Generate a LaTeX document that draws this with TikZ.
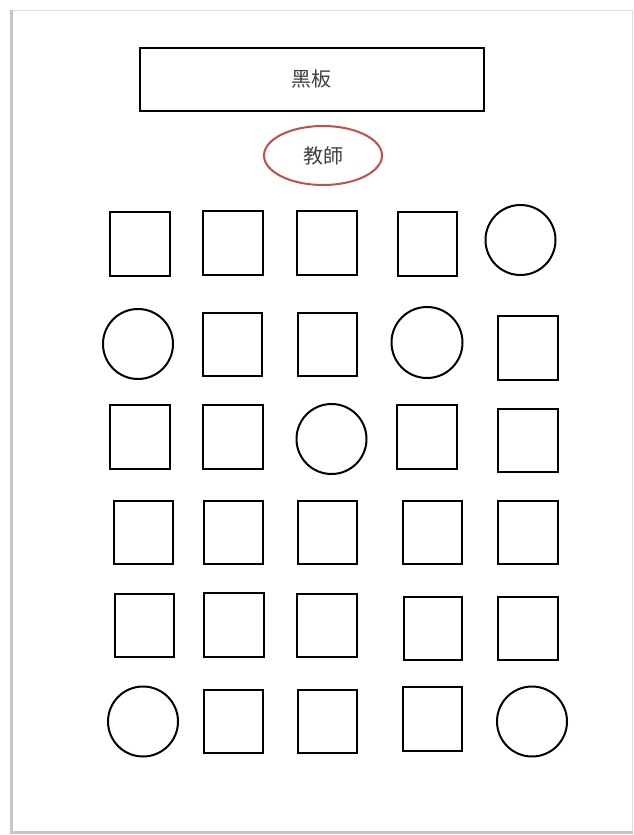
\documentclass[tikz,border=0pt]{standalone}
\usepackage{fontspec}
\usetikzlibrary{shapes.geometric}
\newfontfamily\cjk{Noto Sans CJK TC}
\definecolor{teachred}{HTML}{C0504D}
\definecolor{txtgray}{HTML}{404040}
\begin{document}
\begin{tikzpicture}[x=1pt,y=-1pt,
  seatbox/.style={draw=black,line width=2pt,rectangle,inner sep=0pt,outer sep=0pt},
  seatround/.style={draw=black,line width=2pt,circle,inner sep=0pt,outer sep=0pt},
  labeltext/.style={font=\cjk\fontsize{20}{24}\selectfont,text=txtgray}]
\newcommand\seatsq[5]{\pgfmathsetmacro\sqw{#4-#2-1}\pgfmathsetmacro\sqh{#5-#3-1}%
  \node[seatbox,minimum width=\sqw pt,minimum height=\sqh pt] (#1) at ({(#2+#4)/2},{(#3+#5)/2}) {};}
\newcommand\seatcirc[4]{\pgfmathsetmacro\crd{2*#4-1}%
  \node[seatround,minimum size=\crd pt] (#1) at (#2,#3) {};}
\useasboundingbox (0,0) rectangle (633,835);
% page
\node[draw=gray!25,line width=1pt,fill=white,minimum width=620pt,minimum height=822pt,inner sep=0pt] (page) at (322,421) {};
\draw[gray!45,line width=2.5pt] (page.north west) -- (page.south west) -- (page.south east);
% blackboard
\node[draw=black,line width=2pt,minimum width=344pt,minimum height=63pt,inner sep=0pt,labeltext] (board) at (311.5,79) {黑板};
% teacher
\node[draw=teachred,line width=2pt,ellipse,minimum width=118pt,minimum height=59pt,inner sep=0pt,labeltext] (teacher) at (323,155.5) {教師};
% row 1
\seatsq{r1a}{109}{211}{170}{276}
\seatsq{r1b}{202}{210}{263}{275}
\seatsq{r1c}{296}{210}{357}{275}
\seatsq{r1d}{397}{211}{457}{276}
\seatcirc{r1e}{520.5}{240}{35.5}
% row 2
\seatcirc{r2a}{138}{344}{35.5}
\seatsq{r2b}{202}{312}{262}{376}
\seatsq{r2c}{297}{312}{357}{376}
\seatcirc{r2d}{427}{342.5}{36}
\seatsq{r2e}{497}{315}{558}{380}
% row 3
\seatsq{r3a}{109}{404}{170}{469}
\seatsq{r3b}{202}{404}{263}{469}
\seatcirc{r3c}{331.5}{439}{35.5}
\seatsq{r3d}{396}{404}{457}{469}
\seatsq{r3e}{497}{408}{558}{472}
% row 4
\seatsq{r4a}{113}{500}{173}{564}
\seatsq{r4b}{203}{500}{263}{564}
\seatsq{r4c}{297}{500}{357}{564}
\seatsq{r4d}{402}{500}{462}{564}
\seatsq{r4e}{497}{500}{558}{564}
% row 5
\seatsq{r5a}{114}{593}{174}{657}
\seatsq{r5b}{203}{592}{264}{657}
\seatsq{r5c}{296}{593}{357}{657}
\seatsq{r5d}{403}{596}{462}{660}
\seatsq{r5e}{497}{596}{558}{660}
% row 6
\seatcirc{r6a}{143}{721.5}{35.5}
\seatsq{r6b}{203}{689}{263}{753}
\seatsq{r6c}{297}{689}{357}{753}
\seatsq{r6d}{402}{686}{462}{751}
\seatcirc{r6e}{532}{721.5}{35.5}
\end{tikzpicture}
\end{document}
